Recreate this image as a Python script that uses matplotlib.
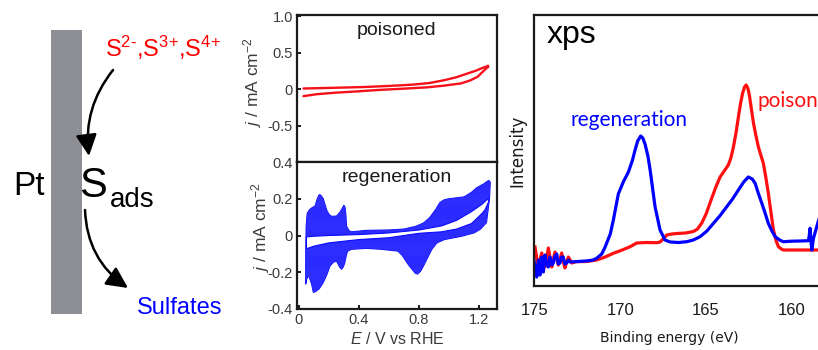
import matplotlib
matplotlib.use('Agg')
import matplotlib.pyplot as plt
from matplotlib.patches import Rectangle, FancyArrowPatch, Polygon

plt.rcParams['font.family'] = ['Liberation Sans', 'DejaVu Sans']
plt.rcParams['mathtext.fontset'] = 'custom'
plt.rcParams['mathtext.rm'] = 'Liberation Sans'
plt.rcParams['mathtext.it'] = 'Liberation Sans:italic'
plt.rcParams['mathtext.bf'] = 'Liberation Sans:bold'
plt.rcParams['hatch.linewidth'] = 0.4

# ---------------- data ----------------
# poisoned CV (E / V vs RHE, j / mA cm-2)
poison_fwd_E = [0.03, 0.20, 0.43, 0.60, 0.75, 0.87, 0.97, 1.05, 1.10, 1.18, 1.22, 1.26]
poison_fwd_j = [0.010, 0.018, 0.030, 0.045, 0.062, 0.085, 0.125, 0.165, 0.200, 0.255, 0.290, 0.320]
poison_rev_E = [1.26, 1.23, 1.19, 1.14, 1.08, 0.97, 0.86, 0.70, 0.53, 0.40, 0.24, 0.12, 0.03]
poison_rev_j = [0.310, 0.250, 0.170, 0.120, 0.080, 0.050, 0.027, 0.008, -0.010, -0.028, -0.048, -0.068, -0.095]

# regeneration CV: last (outer) cycle, anodic then cathodic
regen_outer_E = [0.045, 0.045, 0.048, 0.055, 0.070, 0.085, 0.107, 0.122, 0.135, 0.145, 0.162, 0.184,
                 0.200, 0.218, 0.251, 0.272, 0.290, 0.300, 0.308, 0.313, 0.317, 0.335, 0.351, 0.45,
                 0.60, 0.70, 0.78, 0.83, 0.87, 0.91, 0.94, 0.97, 1.00, 1.05, 1.10, 1.15, 1.185,
                 1.23, 1.265, 1.275,
                 1.27, 1.25, 1.21, 1.17, 1.085, 0.97, 0.92, 0.885, 0.855, 0.83, 0.81, 0.79, 0.775,
                 0.76, 0.74, 0.72, 0.69, 0.66, 0.55, 0.45, 0.35, 0.325, 0.318, 0.305, 0.296, 0.284,
                 0.270, 0.251, 0.230, 0.207, 0.185, 0.162, 0.135, 0.111, 0.096, 0.085, 0.070, 0.062,
                 0.051]
regen_outer_j = [-0.265, -0.10, 0.05, 0.12, 0.14, 0.150, 0.160, 0.200, 0.222, 0.220, 0.200, 0.140,
                 0.115, 0.104, 0.106, 0.125, 0.150, 0.165, 0.150, 0.110, 0.050, 0.025, 0.020, 0.028,
                 0.030, 0.035, 0.050, 0.068, 0.096, 0.140, 0.180, 0.195, 0.200, 0.205, 0.210, 0.235,
                 0.260, 0.280, 0.300, 0.290,
                 0.200, 0.070, 0.035, 0.015, -0.004, -0.022, -0.040, -0.076, -0.125, -0.166, -0.195,
                 -0.210, -0.205, -0.190, -0.170, -0.148, -0.110, -0.085, -0.075, -0.070, -0.075,
                 -0.085, -0.100, -0.150, -0.170, -0.184, -0.170, -0.140, -0.145, -0.166, -0.215,
                 -0.256, -0.290, -0.305, -0.310, -0.266, -0.230, -0.220, -0.238]

# regeneration CV: first (inner) cycle, anodic then cathodic
regen_inner_E = [0.05, 0.10, 0.20, 0.40, 0.60, 0.80, 0.95, 1.05, 1.15, 1.22, 1.26,
                 1.265, 1.24, 1.22, 1.15, 1.05, 0.95, 0.80, 0.60, 0.40, 0.20, 0.10, 0.05]
regen_inner_j = [-0.008, -0.004, 0.000, 0.005, 0.014, 0.030, 0.052, 0.082, 0.130, 0.170, 0.200,
                 0.185, 0.140, 0.120, 0.065, 0.035, 0.020, 0.012, -0.012, -0.022, -0.040, -0.058, -0.072]

# XPS S 2p (binding energy / eV, intensity / a.u.)
xps_regen_be = [175.1, 175.0, 174.9, 174.8, 174.71, 174.61, 174.51, 174.42, 174.32, 174.22, 174.12,
                174.02, 173.93, 173.83, 173.73, 173.64, 173.54, 173.44, 173.35, 173.25, 173.15,
                173.05, 172.95, 172.5, 172.0, 171.6, 171.4, 171.1, 170.9, 170.6, 170.42, 170.13,
                169.84, 169.54, 169.3, 169.15, 169.0, 168.82, 168.7, 168.57, 168.4, 168.27, 167.98,
                167.69, 167.4, 167.1, 166.6, 166.13, 165.75, 165.35, 164.95, 164.57, 164.2, 163.79,
                163.45, 163.11, 162.8, 162.53, 162.3, 162.13, 161.95, 161.74, 161.55, 161.36,
                161.15, 160.96, 160.7, 160.48, 160.0, 159.5, 159.02, 158.97, 158.92, 158.87,
                158.82, 158.72, 158.6, 158.45, 158.3]
xps_regen_int = [29, 19, 9, 26, 11, 29, 14, 31, 22, 19, 29,
                 21, 23, 30, 32, 22, 23, 29, 29, 22, 23,
                 26, 24, 24.5, 25, 26, 27.7, 32, 39, 52, 66, 92,
                 104, 114, 126, 136, 145, 150, 148, 142, 130, 116, 79,
                 56, 46, 44, 43.5, 44.3, 46, 49.3, 55, 62.7, 70, 79.3,
                 87, 96, 104, 109, 107, 102.7, 93, 82.7, 73, 62.7,
                 55, 49.3, 46, 44.3, 44.8, 45, 45.3, 50, 57.7, 46,
                 36, 47.7, 55, 64, 72]

xps_poison_be = [175.0, 174.9, 174.8, 174.71, 174.61, 174.51, 174.42, 174.32, 174.22, 174.12, 174.02,
                 173.93, 173.83, 173.73, 173.64, 173.54, 173.44, 173.35, 173.25, 173.15, 173.05,
                 172.95, 172.85, 172.6, 172.0, 171.4, 170.9, 170.42, 169.9, 169.44, 169.05, 168.5,
                 167.88, 167.69, 167.5, 167.3, 167.0, 166.71, 166.2, 165.74, 165.5, 165.25, 165.0,
                 164.77, 164.45, 164.18, 163.9, 163.7, 163.55, 163.4, 163.25, 163.11, 162.98,
                 162.86, 162.75, 162.66, 162.56, 162.47, 162.35, 162.23, 162.08, 161.94, 161.8,
                 161.65, 161.5, 161.36, 161.2, 161.06, 160.9, 160.77, 160.6, 160.48, 160.0, 159.5,
                 159.0, 158.3]
xps_poison_int = [39, 28, 16, 26, 33, 26, 19, 28, 38, 28, 19,
                  27, 34, 27, 21, 27, 33, 25, 18, 24, 29,
                  26, 23, 24.3, 24.5, 26, 29, 32.7, 36, 39.3, 43, 43.5,
                  43.3, 44, 47, 51, 52, 52.5, 53, 54.5, 57, 63, 72,
                  83, 98, 109, 116, 121, 128, 139, 153, 169, 183,
                  193, 199, 201, 198, 191, 177, 163, 150, 139, 131,
                  122.7, 108, 92.7, 73, 56, 45, 39.3, 37, 36, 36, 36,
                  36, 36]

cv_yticks_top = [1.0, 0.5, 0.0, -0.5]
cv_yticklabels_top = ['1.0', '0.5', '0', '-0.5']
cv_yticks_bot = [0.4, 0.2, 0.0, -0.2, -0.4]
cv_yticklabels_bot = ['0.4', '0.2', '0', '-0.2', '-0.4']
cv_xticks = [0.0, 0.4, 0.8, 1.2]
cv_xticklabels = ['0', '0.4', '0.8', '1.2']
xps_xticks = [175, 170, 165, 160]
xps_xticklabels = ['175', '170', '165', '160']

RED = '#f5101a'
BLUE = '#0a0aff'
TICKC = '#3a3a3a'

W, H = 818, 350
fig = plt.figure(figsize=(W / 100, H / 100), dpi=100)

# ---------------- schematic (pixel coordinates) ----------------
ax0 = fig.add_axes([0, 0, 1, 1])
ax0.set_xlim(0, W)
ax0.set_ylim(H, 0)
ax0.axis('off')
ax0.add_patch(Rectangle((51, 30), 31, 284, facecolor='#8e8f94', edgecolor='none'))
ax0.text(13, 195, 'Pt', fontsize=24, ha='left', va='baseline', color='black')
ax0.text(79, 197, 'S', fontsize=30, ha='left', va='baseline', color='black')
ax0.text(110, 207, 'ads', fontsize=20, ha='left', va='baseline', color='black')
ax0.text(105, 57, r'S$^{2\text{-}}$,S$^{3\text{+}}$,S$^{4\text{+}}$',
         fontsize=17, ha='left', va='baseline', color='#ff0000')
ax0.text(137, 314, 'Sulfates', fontsize=17, ha='left', va='baseline', color='#0000ff')
arr1 = FancyArrowPatch((113, 70), (89, 156), connectionstyle='arc3,rad=0.21',
                       arrowstyle='-|>,head_length=0.65,head_width=0.32', mutation_scale=20,
                       lw=1.8, color='black', shrinkA=0, shrinkB=0)
arr2 = FancyArrowPatch((85, 210), (128, 288), connectionstyle='arc3,rad=0.25',
                       arrowstyle='-|>,head_length=0.65,head_width=0.32', mutation_scale=20,
                       lw=1.8, color='black', shrinkA=0, shrinkB=0)
ax0.add_patch(arr1)
ax0.add_patch(arr2)


def style_cv(ax):
    for s in ax.spines.values():
        s.set_linewidth(1.6)
        s.set_color('#1a1a1a')
    ax.tick_params(direction='in', length=3, width=1.4, colors='#1a1a1a',
                   labelcolor=TICKC, labelsize=10.5, pad=3)


# ---------------- poisoned CV ----------------
ax_t = fig.add_axes([297 / W, 1 - 162 / H, 200 / W, 147 / H])
ax_t.plot(poison_fwd_E, poison_fwd_j, color=RED, lw=1.7, solid_capstyle='round')
ax_t.plot(poison_rev_E, poison_rev_j, color=RED, lw=1.7, solid_capstyle='round')
ax_t.plot([poison_fwd_E[-1], poison_rev_E[0]], [poison_fwd_j[-1], poison_rev_j[0]], color=RED, lw=1.7)
ax_t.set_xlim(-0.013, 1.32)
ax_t.set_ylim(-1.0, 1.02)
ax_t.set_xticks([])
ax_t.set_yticks(cv_yticks_top)
ax_t.set_yticklabels(cv_yticklabels_top)
style_cv(ax_t)
ax_t.text(0.5, 0.955, 'poisoned', transform=ax_t.transAxes, ha='center', va='top', fontsize=14,
          color='#1a1a1a')
ax_t.set_ylabel(r'$\mathit{j}$ / mA cm$^{\mathregular{-2}}$', fontsize=12.5, color='#3a3a3a')
ax_t.yaxis.set_label_coords(-0.165, 0.54)

# ---------------- regeneration CV ----------------
ax_b = fig.add_axes([297 / W, 1 - 309 / H, 200 / W, 147 / H])
outer = list(zip(regen_outer_E, regen_outer_j))
inner = list(zip(regen_inner_E, regen_inner_j))
ax_b.add_patch(Polygon(outer, closed=True, facecolor='#0f0fff', edgecolor=BLUE, lw=0.8))
ax_b.add_patch(Polygon(outer, closed=True, facecolor='none', edgecolor='#4646ff', lw=0,
                       hatch='-' * 16))
ax_b.add_patch(Polygon(inner, closed=True, facecolor='white', edgecolor=BLUE, lw=0.8))
ax_b.set_xlim(-0.013, 1.32)
ax_b.set_ylim(-0.4, 0.4)
ax_b.set_xticks(cv_xticks)
ax_b.set_xticklabels(cv_xticklabels)
ax_b.set_yticks(cv_yticks_bot)
ax_b.set_yticklabels(cv_yticklabels_bot)
style_cv(ax_b)
ax_b.text(0.5, 0.955, 'regeneration', transform=ax_b.transAxes, ha='center', va='top',
          fontsize=14, color='#1a1a1a')
ax_b.set_ylabel(r'$\mathit{j}$ / mA cm$^{\mathregular{-2}}$', fontsize=12.5, color='#3a3a3a')
ax_b.yaxis.set_label_coords(-0.125, 0.56)
ax_b.set_xlabel(r'$\mathit{E}$ / V vs RHE', fontsize=11.5, color='#3a3a3a', labelpad=3)

# ---------------- XPS ----------------
ax_x = fig.add_axes([534 / W, 1 - 286 / H, 300 / W, 271 / H])
ax_x.plot(xps_poison_be, xps_poison_int, color='#ff1010', lw=2.3)
ax_x.plot(xps_regen_be, xps_regen_int, color='#0000ff', lw=2.3)
ax_x.set_xlim(175.06, 157.52)
ax_x.set_ylim(0, 271)
ax_x.set_yticks([])
ax_x.set_xticks(xps_xticks)
ax_x.set_xticklabels(xps_xticklabels)
for s in ax_x.spines.values():
    s.set_linewidth(1.6)
    s.set_color('#1a1a1a')
ax_x.tick_params(axis='x', length=0, labelsize=12, labelcolor='#1a1a1a', pad=12)
ax_x.text(0.043, 0.897, 'xps', transform=ax_x.transAxes, fontsize=23, ha='left',
          va='baseline', color='black')
ax_x.text(172.95, 160, 'regeneration', fontsize=15, family='Lato', color='#0000ff',
          ha='left', va='baseline')
ax_x.text(162.02, 179, 'poison', fontsize=15, family='Lato', color='#ff1010',
          ha='left', va='baseline')
ax_x.set_ylabel('Intensity', fontsize=12, family='DejaVu Sans', color='#1a1a1a')
ax_x.yaxis.set_label_coords(-0.025, 0.5)
ax_x.set_xlabel('Binding energy (eV)', fontsize=10, family='DejaVu Sans', color='#1a1a1a')
ax_x.xaxis.set_label_coords(0.45, -0.165)

fig.savefig('out.png', dpi=100)
